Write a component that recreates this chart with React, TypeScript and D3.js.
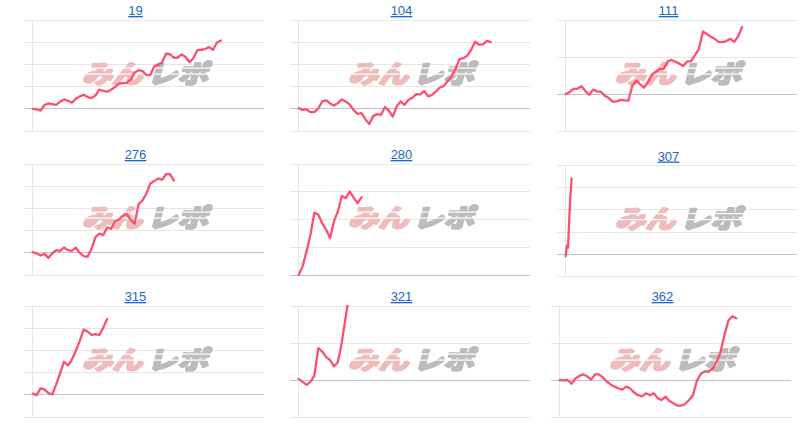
import React from 'react';
import * as d3 from 'd3';

// ---------- data ----------
const titles = ['19', '104', '111', '276', '280', '307', '315', '321', '362'];

const ticksA = [-10, 0, 10, 20, 30, 40];
const ticksB = [-10, 0, 10, 20];
const ticksC = [0, 10, 20, 30, 40];

const s19 = [0, -0.2, -0.8, 1.7, 2.4, 2.1, 1.8, 3.2, 4.2, 3.6, 2.7, 4.5, 5.6, 6.3, 5.3, 4.8, 6, 8.6, 8.1, 7.7, 8.6, 9.8, 11.4, 11.6, 11.7, 13.1, 16.4, 17.4, 17, 15.3, 15.2, 19.1, 19.8, 20.9, 24.8, 24.6, 23, 23.1, 24.5, 23.3, 21, 22.9, 26.4, 26.6, 26.9, 27.8, 26.6, 29.9, 30.8];
const s104 = [0.3, -0.5, -0.3, -1.5, -1.5, 0.2, 3.3, 3.8, 2.4, 1.5, 2.6, 4.2, 3.3, 2, -0.6, -2.3, -2, -4.7, -6.9, -3.3, -2.4, -2.7, 0.8, -0.9, -3.5, 1.1, 3.3, 1.8, 4.1, 5, 6.6, 6.5, 8, 5.6, 6.3, 7.8, 9.6, 10.2, 12.5, 14.6, 17.9, 22.4, 22.8, 23.9, 26.6, 30.2, 28.8, 29, 30.6, 30];
const s111 = [0, 0.5, 1.4, 1.4, 2.1, 0.8, -0.2, 1.2, 0.7, 0.6, -0.5, -1.1, -2.1, -2, -1.6, -1.7, -1.8, 2.3, 3.6, 2.6, 1.7, 3.2, 5.3, 6, 6.8, 6.8, 8.8, 9.2, 8.7, 8.2, 7.6, 8.8, 8.9, 10.5, 12.3, 16.9, 16.2, 15.5, 14.9, 14.1, 14, 14.3, 14.9, 14.1, 15.6, 18.1];
const s276 = [0.3, -0.3, -1.2, -0.5, -2.3, -0.2, 1.2, 0.9, 2.4, 1.2, 0.9, 2.3, 0, -1.5, -1.8, 1.8, 7.1, 8.6, 8, 11.4, 10.8, 14.3, 15, 16.7, 17.4, 14.9, 13.1, 21.8, 23.6, 26.7, 31.2, 32.3, 33.5, 32.9, 35.4, 35.4, 32.6];
const s280 = [0, 3.1, 8.5, 14.5, 22.5, 21.7, 18.7, 16.3, 13.3, 19.3, 22.9, 28.5, 27.7, 30.1, 27.9, 25.9, 28];
const s307 = [-0.8, 4.0, 3.0, 15.8, 25.8, 34.2];
const s315 = [0.5, -0.2, 2.9, 2.4, 0.8, 0.2, 4.7, 9.8, 14.9, 13.2, 15.9, 19.8, 24.3, 29.4, 28.5, 27, 27.3, 26.9, 30.3, 34.2];
const s321 = [0.3, -0.5, -1.3, -0.5, 1.2, 8.6, 7.7, 6.2, 5.4, 3.7, 4.8, 10.2, 17.2, 24];
const s362 = [0, -0.1, 0, -1, 0.4, 1.1, 1.5, 1, 0.1, 1.5, 1.5, 0.7, -0.4, -1.2, -1.8, -2.3, -2.6, -1.8, -2.3, -3.4, -4.1, -4.4, -3.6, -4.1, -3.6, -4.9, -5.4, -4.5, -5.7, -6.3, -6.9, -6.9, -6.5, -5.4, -4.1, -0.2, 1.7, 2.3, 2.3, 3.1, 4.8, 7.5, 12, 16, 17.2, 16.7];

const series = [s19, s104, s111, s276, s280, s307, s315, s321, s362];
const seriesTicks = [ticksA, ticksA, ticksB, ticksA, ticksC, ticksA, ticksA, ticksB, ticksB];
const seriesStep = [1, 1, 1, 1, 1, 0.3, 1, 1, 1];

// ---------- layout ----------
const GRID_LEFTS = [24, 290, 557, 24, 290, 557, 24, 290, 551];
const PLOT_TOPS = [20, 20, 20, 164, 164, 165.5, 306, 306, 306];
const PLOT_W = 240;
const PLOT_H = 111;
const AXIS_OFF = 8.7;
const X_MAX = 59;

const LINE_COLOR = '#fd4f6f';
const GRID_COLOR = '#e6e6e6';
const BASE_COLOR = '#c4c4c4';
const TITLE_COLOR = '#1a66cc';
const WM_PINK = '#eebcbc';
const WM_GRAY = '#bcbcbc';

function Watermark({ cx, cy }: { cx: number; cy: number }) {
  const common = {
    y: 0,
    dominantBaseline: 'central' as const,
    fontFamily: "'Noto Sans CJK JP', sans-serif",
    fontWeight: 700,
    fontSize: 25,
    lengthAdjust: 'spacingAndGlyphs' as const,
    strokeWidth: 2.6,
    strokeLinejoin: 'round' as const,
  };
  return (
    <g transform={`translate(${cx},${cy})`} mask="url(#wm-stripes)">
      <g transform="skewX(-14)">
        <text {...common} x={-63} textLength={60} fill={WM_PINK} stroke={WM_PINK}>
          みん
        </text>
        <text {...common} x={2} textLength={61} fill={WM_GRAY} stroke={WM_GRAY}>
          レポ
        </text>
      </g>
    </g>
  );
}

function Panel({ i }: { i: number }) {
  const L = GRID_LEFTS[i];
  const T = PLOT_TOPS[i];
  const ticks = seriesTicks[i];
  const data = series[i];
  const step = seriesStep[i];
  const [lo, hi] = d3.extent(ticks) as [number, number];
  const y = d3.scaleLinear().domain([lo, hi]).range([T + PLOT_H, T]);
  const x = d3.scaleLinear().domain([0, X_MAX]).range([L + AXIS_OFF, L + PLOT_W]);
  const line = d3
    .line<number>()
    .x((_, j) => x(j * step))
    .y((d) => y(d));
  const crisp = (v: number) => Math.floor(v) + 0.5;
  const ax = crisp(x(0));
  const clipId = `clip-${i}`;
  return (
    <g>
      <defs>
        <clipPath id={clipId}>
          <rect x={L} y={T - 1} width={PLOT_W} height={PLOT_H + 2} />
        </clipPath>
      </defs>
      {ticks.map((t) => (
        <line
          key={t}
          x1={L}
          x2={L + PLOT_W}
          y1={crisp(y(t))}
          y2={crisp(y(t))}
          stroke={t === 0 ? BASE_COLOR : GRID_COLOR}
          strokeWidth={1}
        />
      ))}
      <line x1={ax} x2={ax} y1={T} y2={T + PLOT_H} stroke={GRID_COLOR} strokeWidth={1} />
      <Watermark cx={L + 124} cy={T + 52} />
      <path
        d={line(data) || ''}
        fill="none"
        stroke={LINE_COLOR}
        strokeWidth={2.3}
        strokeLinejoin="round"
        strokeLinecap="round"
        clipPath={`url(#${clipId})`}
      />
      <text
        x={L + 111.5}
        y={T - 5}
        textAnchor="middle"
        fontFamily="'Liberation Sans', Arial, sans-serif"
        fontSize={13}
        fill={TITLE_COLOR}
        textDecoration="underline"
        style={{ textDecoration: 'underline' }}
      >
        {titles[i]}
      </text>
    </g>
  );
}

export default function App() {
  return (
    <svg
      width={800}
      height={425}
      viewBox="0 0 800 425"
      style={{ position: 'absolute', left: 0, top: 0, background: '#fff' }}
    >
      <defs>
        <mask id="wm-stripes" maskUnits="userSpaceOnUse" x={-80} y={-20} width={160} height={40}>
          <rect x={-80} y={-20} width={160} height={40} fill="#fff" />
          <rect x={-80} y={-4.5} width={160} height={1.2} fill="#000" />
          <rect x={-80} y={1.5} width={160} height={1.2} fill="#000" />
        </mask>
      </defs>
      {titles.map((_, i) => (
        <Panel key={i} i={i} />
      ))}
    </svg>
  );
}
